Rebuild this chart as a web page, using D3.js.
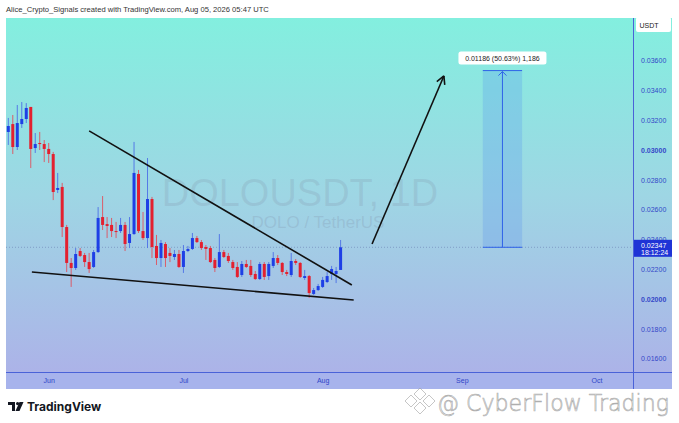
<!DOCTYPE html>
<html><head><meta charset="utf-8">
<script src="https://cdn.jsdelivr.net/npm/d3@7/dist/d3.min.js"></script>
<style>body{margin:0;background:#fff;overflow:hidden}svg{display:block;font-family:"Liberation Sans",Arial,sans-serif}</style>
</head><body><svg id="c" width="679" height="423"></svg>
<script>
// ---- data ----
const startDate = "2026-05-23";
const opens  = [0.03121,0.03174,0.03020,0.03174,0.03208,0.03289,0.03013,0.03047,0.03040,0.03007,
                0.02973,0.02732,0.02752,0.02483,0.02242,0.02208,0.02322,0.02295,0.02248,0.02215,
                0.02315,0.02550,0.02503,0.02497,0.02456,0.02456,0.02497,0.02376,0.02436,0.02839,
                0.02456,0.02409,0.02671,0.02356,0.02275,0.02369,0.02309,0.02282,0.02302,0.02215,
                0.02322,0.02336,0.02409,0.02382,0.02349,0.02342,0.02262,0.02215,0.02315,0.02289,
                0.02248,0.02215,0.02161,0.02235,0.02222,0.02168,0.02134,0.02235,0.02154,0.02222,
                0.02275,0.02242,0.02181,0.02161,0.02255,0.02242,0.02141,0.02154,0.02034,0.02060,
                0.02081,0.02114,0.02168,0.02168,0.02195];
const highs  = [0.03215,0.03235,0.03302,0.03322,0.03315,0.03289,0.03114,0.03121,0.03067,0.03047,
                0.02987,0.02846,0.02779,0.02497,0.02275,0.02342,0.02342,0.02309,0.02309,0.02329,
                0.02617,0.02691,0.02550,0.02544,0.02517,0.02544,0.02517,0.02550,0.03054,0.02866,
                0.02584,0.02946,0.02685,0.02430,0.02396,0.02382,0.02342,0.02329,0.02329,0.02362,
                0.02356,0.02443,0.02423,0.02396,0.02362,0.02356,0.02275,0.02436,0.02329,0.02309,
                0.02262,0.02248,0.02255,0.02262,0.02262,0.02188,0.02248,0.02248,0.02248,0.02315,
                0.02295,0.02248,0.02195,0.02309,0.02268,0.02248,0.02195,0.02161,0.02074,0.02101,
                0.02148,0.02181,0.02222,0.02215,0.02396];
const lows   = [0.03034,0.02973,0.03000,0.03148,0.03181,0.02879,0.02980,0.03000,0.02919,0.02913,
                0.02664,0.02711,0.02416,0.02181,0.02081,0.02195,0.02282,0.02215,0.02175,0.02208,
                0.02309,0.02463,0.02409,0.02416,0.02409,0.02443,0.02322,0.02342,0.02430,0.02443,
                0.02396,0.02342,0.02275,0.02228,0.02215,0.02215,0.02248,0.02262,0.02208,0.02175,
                0.02315,0.02329,0.02376,0.02329,0.02262,0.02242,0.02181,0.02208,0.02275,0.02242,
                0.02195,0.02141,0.02148,0.02208,0.02148,0.02128,0.02128,0.02128,0.02128,0.02208,
                0.02228,0.02161,0.02154,0.02148,0.02228,0.02141,0.02128,0.02007,0.02027,0.02054,
                0.02074,0.02107,0.02128,0.02107,0.02195];
const closes = [0.03161,0.03020,0.03181,0.03208,0.03282,0.03007,0.03040,0.03040,0.03007,0.02973,
                0.02718,0.02745,0.02483,0.02242,0.02208,0.02302,0.02289,0.02248,0.02201,0.02315,
                0.02544,0.02497,0.02490,0.02456,0.02450,0.02497,0.02369,0.02436,0.02846,0.02456,
                0.02409,0.02671,0.02349,0.02275,0.02376,0.02275,0.02289,0.02302,0.02215,0.02322,
                0.02336,0.02409,0.02382,0.02342,0.02336,0.02248,0.02208,0.02315,0.02282,0.02255,
                0.02208,0.02148,0.02235,0.02215,0.02161,0.02134,0.02235,0.02148,0.02235,0.02275,
                0.02242,0.02181,0.02168,0.02255,0.02242,0.02148,0.02154,0.02040,0.02060,0.02087,
                0.02128,0.02154,0.02201,0.02188,0.02347];
const priceTicks = [0.016,0.018,0.020,0.022,0.024,0.026,0.028,0.030,0.032,0.034,0.036];
const boldTicks = [0.020,0.030];
const monthTicks = ["2026-06-01","2026-07-01","2026-08-01","2026-09-01","2026-10-01"];
const monthLabels = ["Jun","Jul","Aug","Sep","Oct"];
const lastPrice = 0.02347;
const countdown = "18:12:24";
const upperTrend = [["2026-06-10T00:00",0.03128],["2026-08-07T12:00",0.02094]];
const lowerTrend = [["2026-05-28T06:00",0.02181],["2026-08-07T22:00",0.01993]];
const arrowLine  = [["2026-08-12T00:00",0.02369],["2026-08-28T00:00",0.03497]];
const measure = {from:"2026-09-05T16:00", to:"2026-09-14T10:00", low:0.02347, high:0.03533};
const measureLabel = "0.01186 (50.63%) 1,186";
const headerText = "Alice_Crypto_Signals created with TradingView.com, Aug 05, 2026 05:47 UTC";

// ---- drawing ----
const svg = d3.select("#c");
const P = {l:6, r:633, t:18, b:372, axR:672, axB:389};
const day = 864e5;
const parse = s => new Date(s + (s.length===10?"T00:00":""));
const d0 = parse(startDate);
const dates = opens.map((_,i)=> new Date(d0.getTime()+i*day));
const candles = dates.map((d,i)=>({d,o:opens[i],h:highs[i],l:lows[i],c:closes[i]}));
const x = d3.scaleTime().domain([d0, dates[dates.length-1]]).range([8.3, 340.6]);
const y = d3.scaleLinear().domain([0.016,0.036]).range([358.6,60.6]);

const defs = svg.append("defs");
const g1 = defs.append("linearGradient").attr("id","bg").attr("x1",0).attr("y1",0).attr("x2",0).attr("y2",1);
g1.append("stop").attr("offset","0%").attr("stop-color","#83efdf");
g1.append("stop").attr("offset","50%").attr("stop-color","#9ed6e4");
g1.append("stop").attr("offset","100%").attr("stop-color","#acb3e8");
const clip = defs.append("clipPath").attr("id","plot");
clip.append("rect").attr("x",P.l).attr("y",P.t).attr("width",P.r-P.l).attr("height",P.b-P.t);

svg.append("text").attr("x",6).attr("y",12).attr("font-size",7.6).attr("fill","#333").text(headerText);

svg.append("rect").attr("x",P.l).attr("y",P.t).attr("width",P.axR-P.l).attr("height",P.b-P.t).attr("fill","url(#bg)");
svg.append("rect").attr("x",P.l).attr("y",P.b).attr("width",P.axR-P.l).attr("height",P.axB-P.b).attr("fill","#a7b3ec");

// watermark
svg.append("text").attr("x",300).attr("y",206).attr("text-anchor","middle").attr("font-size",38)
  .attr("fill","#7f8fa6").attr("fill-opacity",0.22).text("DOLOUSDT, 1D");
svg.append("text").attr("x",318).attr("y",228).attr("text-anchor","middle").attr("font-size",17)
  .attr("fill","#7f8fa6").attr("fill-opacity",0.25).text("DOLO / TetherUS");

const plot = svg.append("g").attr("clip-path","url(#plot)");

// last price dotted line
plot.append("line").attr("x1",P.l).attr("x2",P.r).attr("y1",y(lastPrice)).attr("y2",y(lastPrice))
  .attr("stroke","#6f86b8").attr("stroke-width",0.8).attr("stroke-dasharray","1,2").attr("opacity",0.8);

// candles
const cg = plot.append("g").selectAll("g").data(candles).join("g");
const col = d => d.c>=d.o ? "#1e3fe6" : "#e3202f";
const wcol = d => d.c>=d.o ? "#4d6fe6" : "#e0505c";
cg.append("line").attr("x1",d=>x(d.d)).attr("x2",d=>x(d.d)).attr("y1",d=>y(d.h)).attr("y2",d=>y(d.l))
  .attr("stroke",wcol).attr("stroke-width",0.9);
cg.append("rect").attr("x",d=>x(d.d)-1.5).attr("width",3)
  .attr("y",d=>y(Math.max(d.o,d.c))).attr("height",d=>Math.max(1,Math.abs(y(d.o)-y(d.c))))
  .attr("fill",col);

// trend lines
const pt = a => [x(parse(a[0])), y(a[1])];
[upperTrend, lowerTrend].forEach(t=>{
  const a=pt(t[0]), b=pt(t[1]);
  plot.append("line").attr("x1",a[0]).attr("y1",a[1]).attr("x2",b[0]).attr("y2",b[1])
    .attr("stroke","#111").attr("stroke-width",1.6);
});
// arrow
{
  const a=pt(arrowLine[0]), b=pt(arrowLine[1]);
  plot.append("line").attr("x1",a[0]).attr("y1",a[1]).attr("x2",b[0]).attr("y2",b[1]).attr("stroke","#111").attr("stroke-width",1.6);
  const ang=Math.atan2(b[1]-a[1],b[0]-a[0]);
  [-1,1].forEach(s=>{
    const t=ang+Math.PI+s*0.5;
    plot.append("line").attr("x1",b[0]).attr("y1",b[1]).attr("x2",b[0]+9*Math.cos(t)).attr("y2",b[1]+9*Math.sin(t))
      .attr("stroke","#111").attr("stroke-width",1.6);
  });
}
// measure box
{
  const x1=x(parse(measure.from)), x2=x(parse(measure.to)), yt=y(measure.high), yb=y(measure.low);
  const xm=(x1+x2)/2;
  plot.append("rect").attr("x",x1).attr("y",yt).attr("width",x2-x1).attr("height",yb-yt)
    .attr("fill","#4a86f0").attr("fill-opacity",0.22);
  plot.append("line").attr("x1",x1).attr("x2",x2).attr("y1",yt).attr("y2",yt).attr("stroke","#2f62e8").attr("stroke-width",1);
  plot.append("line").attr("x1",x1).attr("x2",x2).attr("y1",yb).attr("y2",yb).attr("stroke","#2f62e8").attr("stroke-width",1);
  plot.append("line").attr("x1",xm).attr("x2",xm).attr("y1",yb).attr("y2",yt+1).attr("stroke","#2f62e8").attr("stroke-width",1);
  plot.append("path").attr("d",`M${xm-4},${yt+5}L${xm},${yt+1}L${xm+4},${yt+5}`).attr("fill","none").attr("stroke","#2f62e8");
  const lg = svg.append("g");
  lg.append("rect").attr("x",xm-44).attr("y",yt-19).attr("width",88).attr("height",13).attr("rx",2.5).attr("fill","#fff");
  lg.append("text").attr("x",xm).attr("y",yt-9.5).attr("text-anchor","middle").attr("font-size",7).attr("fill","#222").text(measureLabel);
}

// right axis
svg.append("line").attr("x1",P.r+0.5).attr("x2",P.r+0.5).attr("y1",P.t).attr("y2",P.axB).attr("stroke","#4a62d8").attr("stroke-width",1);
svg.append("line").attr("x1",P.l).attr("x2",P.axR).attr("y1",P.b+0.5).attr("y2",P.b+0.5).attr("stroke","#4a62d8").attr("stroke-width",1);
const yAxis = d3.axisRight(y).tickValues(priceTicks).tickSize(0).tickPadding(8).tickFormat(d3.format(".5f"));
const ya = svg.append("g").attr("transform",`translate(${P.r},0)`).call(yAxis);
ya.select(".domain").remove();
ya.selectAll("text").attr("font-size",7).attr("fill","#3547c8").attr("font-family","Liberation Sans, Arial")
  .attr("font-weight",d=>boldTicks.some(b=>Math.abs(b-d)<1e-9)?"bold":"normal");

svg.append("rect").attr("x",636).attr("y",17).attr("width",35).attr("height",15).attr("rx",2).attr("fill","#fff");
svg.append("text").attr("x",649).attr("y",27.5).attr("text-anchor","middle").attr("font-size",7).attr("fill","#222").text("USDT");

// last price label
{
  const yy=y(lastPrice);
  svg.append("rect").attr("x",634).attr("y",yy-7.5).attr("width",38).attr("height",17).attr("fill","#1f34d6");
  svg.append("text").attr("x",641).attr("y",yy+0.5).attr("font-size",7).attr("fill","#fff").text(d3.format(".5f")(lastPrice));
  svg.append("text").attr("x",641).attr("y",yy+8).attr("font-size",7).attr("fill","#fff").text(countdown);
}

// time axis
const xAxis = d3.axisBottom(x).tickValues(monthTicks.map(parse)).tickSize(0).tickPadding(6)
  .tickFormat((d,i)=>monthLabels[i]);
const xa = svg.append("g").attr("transform",`translate(0,${P.b})`).call(xAxis);
xa.select(".domain").remove();
xa.selectAll("text").attr("font-size",7).attr("fill","#2f45c8").attr("font-family","Liberation Sans, Arial");

// TradingView logo
{
  const lg=svg.append("g").attr("fill","#131722");
  lg.append("path").attr("d","M8,402h7v9h-3v-6h-4z");
  lg.append("circle").attr("cx",17.6).attr("cy",403.6).attr("r",1.6);
  lg.append("path").attr("d","M19.5,402h4l-4,9h-4z");
  lg.append("text").attr("x",27).attr("y",411).attr("font-size",12).attr("font-weight","bold").attr("font-family","Inter, Liberation Sans, Arial").text("TradingView");
}
// CyberFlow watermark
{
  const wg=svg.append("g").attr("fill","#fff").attr("fill-opacity",0.85).attr("stroke","#8a8a8a").attr("stroke-width",0.7).attr("stroke-opacity",0.7);
  wg.append("path").attr("d","M420,388l6,6l-6,6l-6-6z M420,402l6,6l-6,6l-6-6z M411,395l6,6l-6,6l-6-6z M429,395l6,6l-6,6l-6-6z").attr("fill-opacity",0.5);
  wg.append("text").attr("x",437).attr("y",411).attr("font-size",23).attr("font-family","DejaVu Sans, Arial").attr("font-weight","200")
    .attr("textLength",232).attr("lengthAdjust","spacingAndGlyphs").text("@ CyberFlow Trading");
}
</script></body></html>
